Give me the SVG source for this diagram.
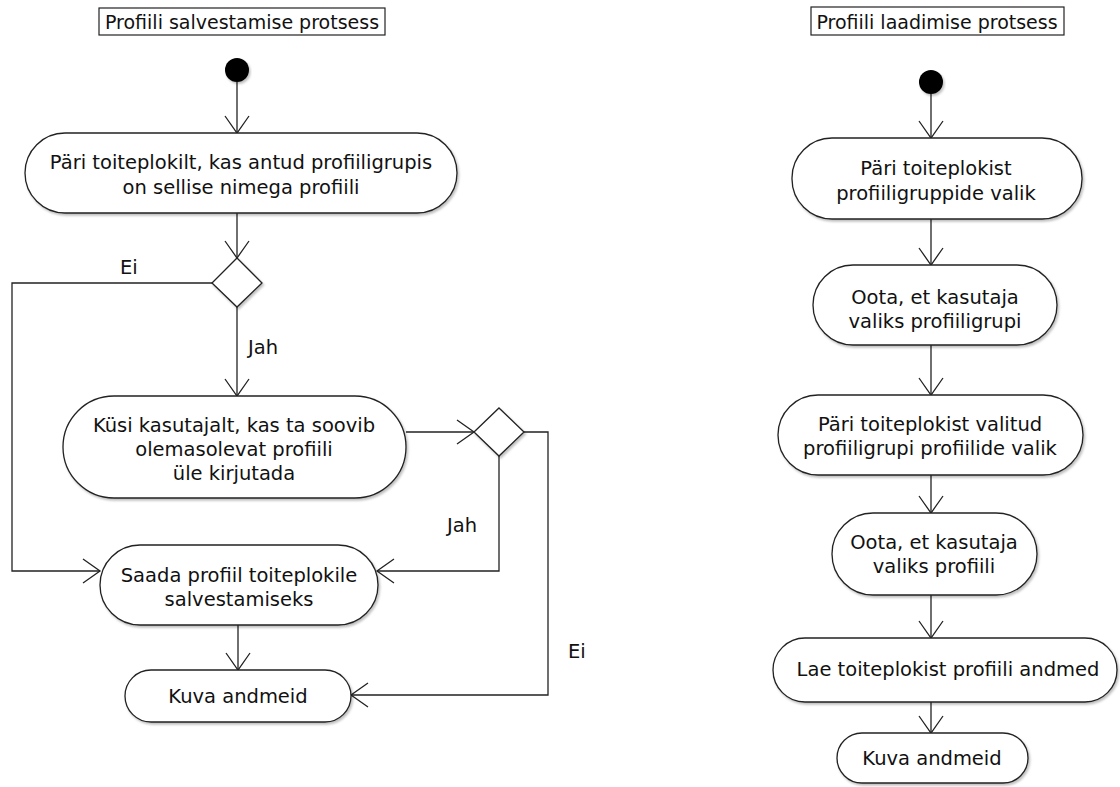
<svg xmlns="http://www.w3.org/2000/svg" width="1120" height="787" viewBox="0 0 1120 787">
<style>
  text { font-family: "DejaVu Sans", "Noto Sans", sans-serif; font-size: 19.5px; fill: #111; }
  .c { text-anchor: middle; }
  .node { fill: #fff; stroke: #222; stroke-width: 1.3; filter: url(#sh); }
  .title { fill: #fff; stroke: #222; stroke-width: 1.2; }
  .edge { fill: none; stroke: #222; stroke-width: 1.3; }
  .arr { marker-end: url(#ah); }
</style>
<defs>
  <marker id="ah" viewBox="-20 -15 22 30" refX="0" refY="0" markerWidth="22" markerHeight="30" markerUnits="userSpaceOnUse" orient="auto">
    <path d="M-17,-12 L0,0 L-17,12" fill="none" stroke="#222" stroke-width="1.3"/>
  </marker>
  <filter id="sh" x="-10%" y="-20%" width="120%" height="150%">
    <feDropShadow dx="1.5" dy="2" stdDeviation="1.2" flood-color="#000" flood-opacity="0.25"/>
  </filter>
</defs>
<rect width="1120" height="787" fill="#fff"/>

<g id="connectors">
  <!-- left -->
  <path class="edge arr" d="M237,82 L237,133"/>
  <path class="edge arr" d="M237,213 L237,258"/>
  <path class="edge arr" d="M212,283 L12,283 L12,571 L100,571"/>
  <path class="edge arr" d="M237,307 L237,396"/>
  <path class="edge arr" d="M406,432 L474,432"/>
  <path class="edge arr" d="M499,456 L499,571 L377,571"/>
  <path class="edge arr" d="M524,432 L548,432 L548,695 L351,695"/>
  <path class="edge arr" d="M238,625 L238,670"/>
  <!-- right -->
  <path class="edge arr" d="M931,94 L931,138"/>
  <path class="edge arr" d="M931,219 L931,265"/>
  <path class="edge arr" d="M931,345 L931,395"/>
  <path class="edge arr" d="M931,475 L931,513"/>
  <path class="edge arr" d="M931,595 L931,638"/>
  <path class="edge arr" d="M931,702 L931,733"/>
  <text x="120" y="274">Ei</text>
  <text x="248" y="354">Jah</text>
  <text x="447" y="532">Jah</text>
  <text x="568" y="658">Ei</text>
</g>

<g id="title-left">
  <rect class="title" x="99" y="8" width="286" height="27"/>
  <text class="c" x="242" y="29" style="font-size:19px">Profiili salvestamise protsess</text>
</g>
<g id="start-left">
  <circle cx="237" cy="70" r="12" fill="#000" filter="url(#sh)"/>
</g>
<g id="n1">
  <rect class="node" x="25" y="133" width="432" height="80" rx="40" ry="40"/>
  <text class="c" x="241" y="169">Päri toiteplokilt, kas antud profiiligrupis</text>
  <text class="c" x="241" y="194">on sellise nimega profiili</text>
</g>
<g id="d1">
  <polygon class="node" points="237,258 262,283 237,307 212,283"/>
</g>
<g id="n2">
  <rect class="node" x="63" y="396" width="343" height="102" rx="51" ry="51"/>
  <text class="c" x="234" y="432">Küsi kasutajalt, kas ta soovib</text>
  <text class="c" x="234" y="456">olemasolevat profiili</text>
  <text class="c" x="234" y="480">üle kirjutada</text>
</g>
<g id="d2">
  <polygon class="node" points="499,408 524,432 499,456 474,432"/>
</g>
<g id="n3">
  <rect class="node" x="100" y="545" width="278" height="80" rx="40" ry="40"/>
  <text class="c" x="239" y="582">Saada profiil toiteplokile</text>
  <text class="c" x="239" y="606">salvestamiseks</text>
</g>
<g id="n4">
  <rect class="node" x="125" y="670" width="226" height="52" rx="26" ry="26"/>
  <text class="c" x="238" y="703">Kuva andmeid</text>
</g>

<g id="title-right">
  <rect class="title" x="811" y="7" width="253" height="28"/>
  <text class="c" x="937" y="29" style="font-size:19px">Profiili laadimise protsess</text>
</g>
<g id="start-right">
  <circle cx="931" cy="82" r="12" fill="#000" filter="url(#sh)"/>
</g>
<g id="r1">
  <rect class="node" x="792" y="138" width="290" height="81" rx="40" ry="40"/>
  <text class="c" x="936" y="175">Päri toiteplokist</text>
  <text class="c" x="936" y="200">profiiligruppide valik</text>
</g>
<g id="r2">
  <rect class="node" x="813" y="265" width="244" height="80" rx="40" ry="40"/>
  <text class="c" x="935" y="304">Oota, et kasutaja</text>
  <text class="c" x="935" y="328">valiks profiiligrupi</text>
</g>
<g id="r3">
  <rect class="node" x="778" y="395" width="305" height="80" rx="40" ry="40"/>
  <text class="c" x="930" y="431">Päri toiteplokist valitud</text>
  <text class="c" x="930" y="455">profiiligrupi profiilide valik</text>
</g>
<g id="r4">
  <rect class="node" x="832" y="513" width="205" height="82" rx="41" ry="41"/>
  <text class="c" x="934" y="549">Oota, et kasutaja</text>
  <text class="c" x="934" y="573">valiks profiili</text>
</g>
<g id="r5">
  <rect class="node" x="773" y="638" width="344" height="64" rx="32" ry="32"/>
  <text class="c" x="948" y="676">Lae toiteplokist profiili andmed</text>
</g>
<g id="r6">
  <rect class="node" x="837" y="733" width="191" height="50" rx="25" ry="25"/>
  <text class="c" x="932" y="765">Kuva andmeid</text>
</g>
</svg>
